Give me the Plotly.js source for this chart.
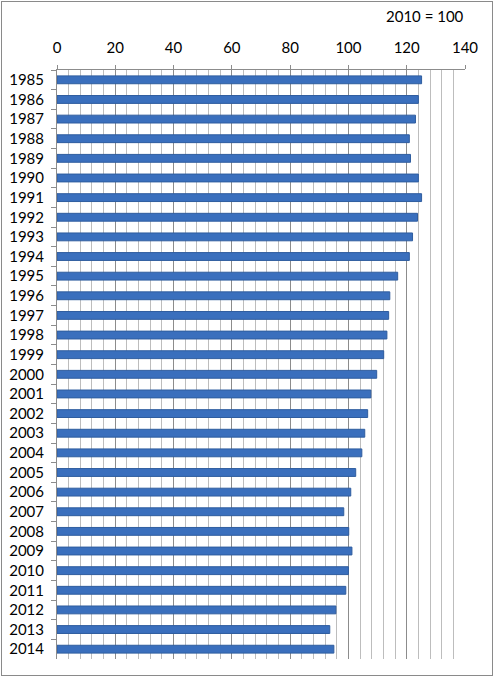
<!DOCTYPE html>
<html>
<head>
<meta charset="utf-8">
<script src="https://cdn.plot.ly/plotly-3.0.1.min.js"></script>
<style>
  html, body { margin: 0; padding: 0; background: #fff; }
  #wrap { position: relative; width: 494px; height: 677px; }
  #chart { width: 494px; height: 677px; }
  #frame { position: absolute; left: 1px; top: 1px; width: 490px; height: 673px; border: 1px solid #8a8a8a; pointer-events: none; }
</style>
</head>
<body>
<div id="wrap">
  <div id="chart"></div>
  <div id="frame"></div>
</div>
<script>
const years = ['1985','1986','1987','1988','1989','1990','1991','1992','1993','1994',
               '1995','1996','1997','1998','1999','2000','2001','2002','2003','2004',
               '2005','2006','2007','2008','2009','2010','2011','2012','2013','2014'];
const indexValues = [125.1, 124.0, 123.0, 120.9, 121.3, 124.0, 125.1, 123.7, 122.0, 120.9,
                     116.9, 114.2, 113.8, 113.2, 112.1, 109.7, 107.7, 106.6, 105.6, 104.6,
                     102.5, 100.8, 98.4, 100.1, 101.2, 100.0, 99.1, 95.7, 93.6, 95.0];
const noteText = '2010 = 100';

const font = 'Lato, "Open Sans", sans-serif';

const trace = {
  type: 'bar',
  orientation: 'h',
  x: indexValues,
  y: years,
  marker: { color: '#3a6fbd', line: { color: '#2f5d9f', width: 1 } },
  hoverinfo: 'x+y'
};

const layout = {
  width: 494,
  height: 677,
  margin: { l: 57, r: 29, t: 70, b: 18 },
  paper_bgcolor: '#ffffff',
  plot_bgcolor: '#ffffff',
  showlegend: false,
  bargap: 0.6,
  font: { family: font, size: 15, color: '#000' },
  xaxis: {
    side: 'top',
    range: [0, 140],
    dtick: 20,
    tick0: 0,
    showgrid: true,
    gridcolor: '#8c8c8c',
    gridwidth: 1,
    zeroline: false,
    showline: true,
    linecolor: '#8c8c8c',
    linewidth: 1,
    ticks: 'outside',
    ticklen: 4,
    tickcolor: '#8c8c8c',
    ticklabelstandoff: 6,
    tickfont: { family: font, size: 15, color: '#000' },
    minor: { dtick: 4, tick0: 0, showgrid: true, gridcolor: '#bdbdbd', gridwidth: 1, ticks: '' },
    fixedrange: true
  },
  yaxis: {
    type: 'category',
    autorange: 'reversed',
    showgrid: false,
    zeroline: false,
    showline: true,
    linecolor: '#8c8c8c',
    linewidth: 1,
    ticks: 'outside',
    tickson: 'boundaries',
    ticklen: 5,
    tickcolor: '#8c8c8c',
    ticklabelstandoff: 9,
    tickfont: { family: font, size: 15, color: '#000' },
    fixedrange: true
  },
  annotations: [{
    text: noteText,
    xref: 'paper', yref: 'paper',
    x: 1.002, y: 1.092,
    xanchor: 'right', yanchor: 'middle',
    showarrow: false,
    font: { family: font, size: 15, color: '#000' }
  }]
};

Plotly.newPlot('chart', [trace], layout, { displayModeBar: false, staticPlot: true });
</script>
</body>
</html>
